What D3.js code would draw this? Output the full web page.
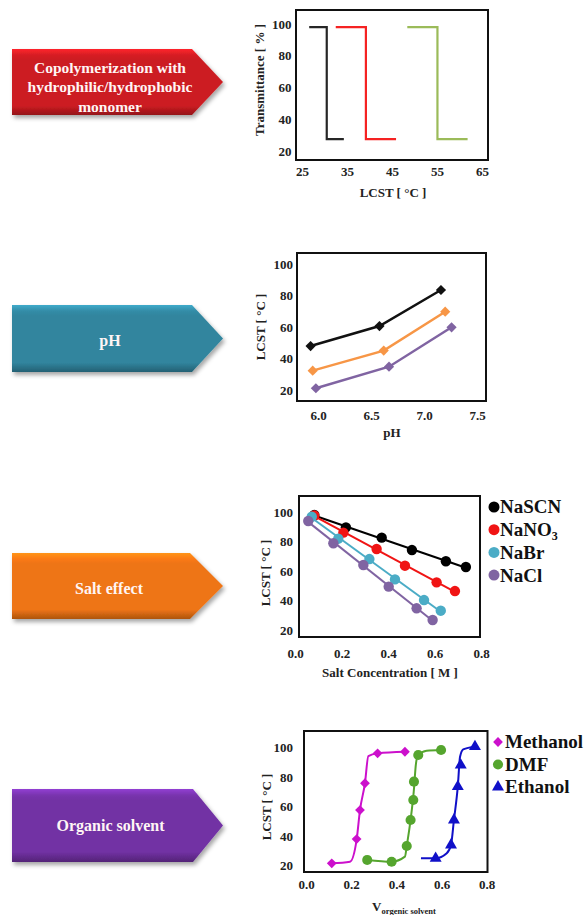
<!DOCTYPE html>
<html>
<head>
<meta charset="utf-8">
<script src="https://cdn.jsdelivr.net/npm/d3@7"></script>
<style>
body { margin: 0; background: #fff; }
svg { display: block; }
.tick text { font-family: "Liberation Serif", "Times New Roman", serif; font-weight: bold; font-size: 13px; fill: #222; }
</style>
</head>
<body>
<svg id="fig" width="587" height="915"></svg>
<script>
// ---- data ----
const arrowLabels = [["Copolymerization with", "hydrophilic/hydrophobic", "monomer"], ["pH"], ["Salt effect"], ["Organic solvent"]];
const arrowColors = ["#cc1c22", "#31859e", "#ee7414", "#7231a4"];

// panel 1: transmittance steps (start, drop, end temperature)
const stepStart = [26.6, 32.5, 48.4];
const stepDrop = [30.5, 39.2, 55.1];
const stepEnd = [34.3, 45.9, 61.8];
const stepHigh = 98;
const stepLow = 27.5;
const stepColors = ["#262626", "#f52222", "#9bbb59"];
const tempTicks = [25, 35, 45, 55, 65];
const pctTicks = [20, 40, 60, 80, 100];

// panel 2: LCST vs pH
const phBlack = [[5.93, 47.9], [6.58, 60.6], [7.16, 83.5]];
const phOrange = [[5.95, 32.3], [6.62, 45.0], [7.20, 69.7]];
const phPurple = [[5.98, 21.1], [6.67, 34.8], [7.26, 59.8]];
const phColors = ["#111", "#f79646", "#8064a2"];
const phTicks = [6.0, 6.5, 7.0, 7.5];

// panel 3: LCST vs salt concentration
const saltNames = ["NaSCN", "NaNO", "NaBr", "NaCl"];
const naSCN = [[0.083, 98.0], [0.219, 89.6], [0.373, 82.6], [0.503, 74.2], [0.649, 66.6], [0.735, 62.7]];
const naNO3 = [[0.083, 97.6], [0.208, 86.0], [0.351, 74.9], [0.473, 63.6], [0.609, 52.3], [0.688, 46.4]];
const naBr = [[0.072, 96.8], [0.186, 81.9], [0.320, 68.1], [0.430, 54.3], [0.555, 40.3], [0.627, 33.1]];
const naCl = [[0.057, 93.9], [0.165, 78.8], [0.294, 64.1], [0.403, 49.4], [0.523, 34.7], [0.592, 26.8]];
const saltColors = ["#000", "#f01414", "#4bacc6", "#8064a2"];
const concTicks = [0.0, 0.2, 0.4, 0.6, 0.8];

// panel 4: LCST vs organic solvent fraction (markers + fitted curves)
const solventNames = ["Methanol", "DMF", "Ethanol"];
const methanol = [[0.114, 21.6], [0.224, 38.0], [0.239, 57.6], [0.261, 75.7], [0.317, 95.9], [0.438, 97.0]];
const dmf = [[0.271, 23.9], [0.379, 22.7], [0.446, 33.3], [0.463, 50.9], [0.475, 64.4], [0.478, 76.8], [0.497, 94.8], [0.598, 98.2]];
const ethanol = [[0.574, 25.0], [0.642, 34.0], [0.655, 50.9], [0.672, 73.4], [0.685, 88.0], [0.748, 100.5]];
const methanolFit = [[0.114, 21.6], [0.195, 22.7], [0.224, 37.4], [0.239, 57.6], [0.261, 75.7], [0.276, 94.1], [0.317, 95.9], [0.438, 97.0]];
const dmfFit = [[0.271, 23.9], [0.379, 22.7], [0.438, 26.1], [0.446, 33.3], [0.463, 50.9], [0.477, 70.0], [0.487, 89.2], [0.497, 94.8], [0.534, 97.7], [0.598, 98.2]];
const ethanolFit = [[0.509, 25.0], [0.574, 25.0], [0.623, 28.4], [0.642, 34.0], [0.655, 50.9], [0.672, 73.4], [0.682, 93.6], [0.696, 98.6], [0.748, 100.4]];
const solventColors = ["#cc10cc", "#55a52e", "#1010c8"];

// ---- drawing ----
const serif = '"Liberation Serif", "Times New Roman", serif';
const svg = d3.select("#fig");
const defs = svg.append("defs");

const shadow = defs.append("filter").attr("id", "shadow").attr("x", "-10%").attr("y", "-20%").attr("width", "130%").attr("height", "160%");
shadow.append("feDropShadow").attr("dx", 2).attr("dy", 3).attr("stdDeviation", 2).attr("flood-color", "#000").attr("flood-opacity", 0.35);

// arrows on the left
const arrowBoxes = [
  {left: 12, top: 49, bottom: 115, shoulder: 192, tip: 223, cy: 87},
  {left: 12, top: 305, bottom: 372, shoulder: 192, tip: 223, cy: 340},
  {left: 12, top: 553, bottom: 619, shoulder: 190, tip: 223, cy: 588},
  {left: 12, top: 789, bottom: 862, shoulder: 193, tip: 223, cy: 825}
];

arrowBoxes.forEach((a, i) => {
  const c = d3.color(arrowColors[i]);
  const grad = defs.append("linearGradient").attr("id", "ag" + i).attr("x1", 0).attr("x2", 0).attr("y1", 0).attr("y2", 1);
  grad.append("stop").attr("offset", "0%").attr("stop-color", c.brighter(0.7));
  grad.append("stop").attr("offset", "9%").attr("stop-color", c.brighter(0.15));
  grad.append("stop").attr("offset", "16%").attr("stop-color", c);
  grad.append("stop").attr("offset", "86%").attr("stop-color", c);
  grad.append("stop").attr("offset", "100%").attr("stop-color", c.darker(0.9));

  const mid = (a.top + a.bottom) / 2;
  const pts = [[a.left, a.top], [a.shoulder, a.top], [a.tip, mid], [a.shoulder, a.bottom], [a.left, a.bottom]];
  svg.append("path")
    .attr("d", "M" + pts.join("L") + "Z")
    .attr("fill", `url(#ag${i})`)
    .attr("filter", "url(#shadow)");

  const lines = arrowLabels[i];
  const lh = 19.2;
  const tx = (a.left + a.shoulder) / 2 + 8;
  svg.append("text")
    .attr("x", tx)
    .attr("y", a.cy - (lines.length - 1) * lh / 2)
    .attr("text-anchor", "middle")
    .attr("font-family", serif)
    .attr("font-weight", "bold")
    .attr("font-size", lines.length > 1 ? 15.5 : 16)
    .attr("fill", "#fff5f5")
    .selectAll("tspan")
    .data(lines)
    .join("tspan")
    .attr("x", tx)
    .attr("dy", (d, j) => j === 0 ? "0.35em" : lh)
    .text(d => d);
});

function panel(o) {
  const g = svg.append("g");
  g.append("rect")
    .attr("x", o.box[0]).attr("y", o.box[1])
    .attr("width", o.box[2] - o.box[0]).attr("height", o.box[3] - o.box[1])
    .attr("fill", "#fff").attr("stroke", "#111").attr("stroke-width", 2);

  g.append("g")
    .attr("transform", `translate(0,${o.box[3]})`)
    .call(d3.axisBottom(o.x).tickValues(o.xTicks).tickFormat(o.xFmt).tickSize(0).tickPadding(o.xPad))
    .call(a => a.select(".domain").remove());

  g.append("g")
    .attr("transform", `translate(${o.box[0]},0)`)
    .call(d3.axisLeft(o.y).tickValues(o.yTicks).tickSize(0).tickPadding(o.yPad))
    .call(a => a.select(".domain").remove());

  g.append("text")
    .attr("transform", `translate(${o.yLabel[0]},${o.yLabel[1]}) rotate(-90)`)
    .attr("dy", "0.35em")
    .attr("text-anchor", "middle")
    .attr("font-family", serif).attr("font-weight", "bold").attr("font-size", 13).attr("fill", "#222")
    .text(o.yText);

  return g;
}

function axisTitle(x, y, txt) {
  return svg.append("text")
    .attr("x", x).attr("y", y).attr("dy", "0.35em")
    .attr("text-anchor", "middle")
    .attr("font-family", serif).attr("font-weight", "bold").attr("font-size", 13).attr("fill", "#222")
    .text(txt);
}

// panel 1
{
  const x = d3.scaleLinear().domain([25, 65]).range([302, 482]);
  const y = d3.scaleLinear().domain([20, 100]).range([151, 24]);
  const g = panel({box: [296, 10, 488, 160], x, y, xTicks: tempTicks, yTicks: pctTicks, xFmt: d3.format("d"),
    xPad: 7, yPad: 4.5, yLabel: [259, 80], yText: "Transmittance [ % ]"});
  axisTitle(393, 192, "LCST [ °C ]");
  const line = d3.line().x(d => x(d[0])).y(d => y(d[1]));
  stepStart.forEach((s, i) => {
    const pts = [[s, stepHigh], [stepDrop[i], stepHigh], [stepDrop[i], stepLow], [stepEnd[i], stepLow]];
    g.append("path").attr("d", line(pts)).attr("fill", "none")
      .attr("stroke", stepColors[i]).attr("stroke-width", 2.2);
  });
}

// panel 2
{
  const x = d3.scaleLinear().domain([6, 7.5]).range([318, 477]);
  const y = d3.scaleLinear().domain([20, 100]).range([390, 264]);
  const g = panel({box: [297, 253, 486, 401], x, y, xTicks: phTicks, yTicks: pctTicks, xFmt: d3.format(".1f"),
    xPad: 9.4, yPad: 4, yLabel: [260, 327], yText: "LCST [ °C ]"});
  axisTitle(392, 432, "pH");
  const line = d3.line().x(d => x(d[0])).y(d => y(d[1]));
  const diamond = d3.symbol(d3.symbolSquare, 52);
  [phBlack, phOrange, phPurple].forEach((s, i) => {
    g.append("path").attr("d", line(s)).attr("fill", "none")
      .attr("stroke", phColors[i]).attr("stroke-width", 2.5);
    g.selectAll(null).data(s).join("path")
      .attr("d", diamond)
      .attr("transform", d => `translate(${x(d[0])},${y(d[1])}) rotate(45)`)
      .attr("fill", phColors[i]);
  });
}

// panel 3
{
  const x = d3.scaleLinear().domain([0, 0.8]).range([295, 481]);
  const y = d3.scaleLinear().domain([20, 100]).range([630, 512]);
  const g = panel({box: [299, 496, 480, 637], x, y, xTicks: concTicks, yTicks: pctTicks, xFmt: d3.format(".1f"),
    xPad: 12, yPad: 6, yLabel: [265, 573], yText: "LCST [ °C ]"});
  axisTitle(390, 672, "Salt Concentration [ M ]");
  const series = [naSCN, naNO3, naBr, naCl];
  series.forEach((s, i) => {
    // least-squares trend line through the points
    const mx = d3.mean(s, d => d[0]), my = d3.mean(s, d => d[1]);
    const slope = d3.sum(s, d => (d[0] - mx) * (d[1] - my)) / d3.sum(s, d => (d[0] - mx) ** 2);
    const x0 = d3.min(s, d => d[0]) - 0.01, x1 = d3.max(s, d => d[0]);
    g.append("line")
      .attr("x1", x(x0)).attr("y1", y(my + slope * (x0 - mx)))
      .attr("x2", x(x1)).attr("y2", y(my + slope * (x1 - mx)))
      .attr("stroke", saltColors[i]).attr("stroke-width", 2);
    g.selectAll(null).data(s).join("circle")
      .attr("cx", d => x(d[0])).attr("cy", d => y(d[1])).attr("r", 5.2)
      .attr("fill", saltColors[i]);
  });
  // legend
  const leg = svg.append("g").attr("font-family", serif).attr("font-weight", "bold").attr("font-size", 19).attr("fill", "#111");
  saltNames.forEach((n, i) => {
    const cy = 507 + i * 22.7;
    leg.append("circle").attr("cx", 494).attr("cy", cy).attr("r", 5.5).attr("fill", saltColors[i]);
    const t = leg.append("text").attr("x", 500).attr("y", cy).attr("dy", "0.34em").text(n);
    if (i === 1) t.append("tspan").attr("font-size", 12).attr("dy", 4).text("3");
  });
}

// panel 4
{
  const x = d3.scaleLinear().domain([0, 0.8]).range([306, 486.7]);
  const y = d3.scaleLinear().domain([20, 100]).range([865.7, 747.3]);
  const g = panel({box: [304, 731, 487.5, 872], x, y, xTicks: concTicks, yTicks: pctTicks, xFmt: d3.format(".1f"),
    xPad: 7.5, yPad: 11, yLabel: [266, 807], yText: "LCST [ °C ]"});
  const xt = svg.append("text")
    .attr("x", 372).attr("y", 911)
    .attr("font-family", serif).attr("font-weight", "bold").attr("font-size", 13).attr("fill", "#222")
    .text("V");
  xt.append("tspan").attr("font-size", 8.5).attr("dy", 3).text("orgenic solvent");

  const line = d3.line().x(d => x(d[0])).y(d => y(d[1])).curve(d3.curveMonotoneX);
  const markers = [
    d3.symbol(d3.symbolSquare, 48),
    d3.symbol(d3.symbolCircle, 80),
    d3.symbol(d3.symbolTriangle, 62)
  ];
  const rot = [45, 0, 0];
  [methanolFit, dmfFit, ethanolFit].forEach((f, i) => {
    g.append("path").attr("d", line(f)).attr("fill", "none")
      .attr("stroke", solventColors[i]).attr("stroke-width", 2);
  });
  [methanol, dmf, ethanol].forEach((s, i) => {
    g.selectAll(null).data(s).join("path")
      .attr("d", markers[i])
      .attr("transform", d => `translate(${x(d[0])},${y(d[1])}) rotate(${rot[i]})`)
      .attr("fill", solventColors[i]);
  });
  // legend
  const leg = svg.append("g").attr("font-family", serif).attr("font-weight", "bold").attr("font-size", 19).attr("fill", "#111");
  solventNames.forEach((n, i) => {
    const cy = 742 + i * 22.5;
    leg.append("path").attr("d", markers[i])
      .attr("transform", `translate(498,${cy}) rotate(${rot[i]})`)
      .attr("fill", solventColors[i]);
    leg.append("text").attr("x", 505).attr("y", cy).attr("dy", "0.34em").text(n);
  });
}
</script>
</body>
</html>
